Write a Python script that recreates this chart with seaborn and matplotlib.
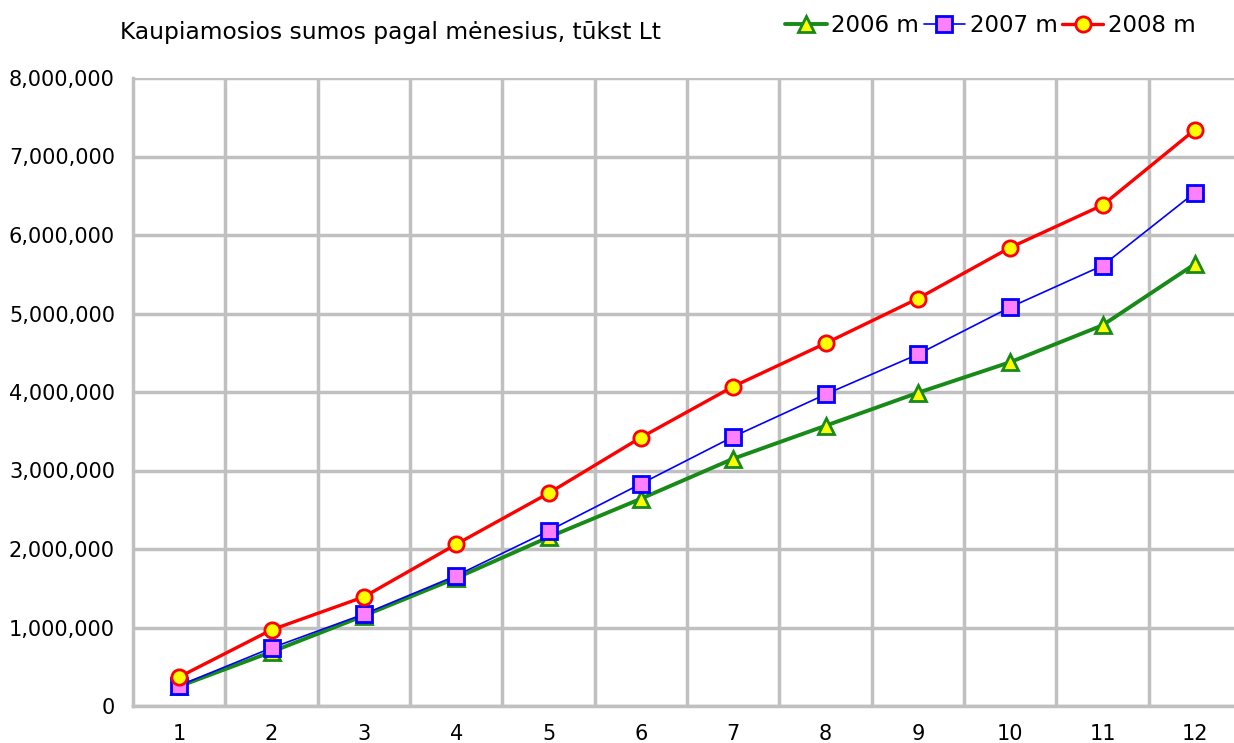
import matplotlib
matplotlib.use("Agg")
import matplotlib.pyplot as plt
import seaborn as sns
from matplotlib.ticker import FuncFormatter

months = list(range(1, 13))
sales_2006 = [250000, 690000, 1150000, 1630000, 2150000, 2640000, 3150000, 3570000, 3990000, 4380000, 4850000, 5630000]
sales_2007 = [260000, 740000, 1170000, 1660000, 2230000, 2830000, 3430000, 3970000, 4480000, 5080000, 5610000, 6540000]
sales_2008 = [370000, 970000, 1390000, 2060000, 2710000, 3420000, 4070000, 4620000, 5190000, 5840000, 6380000, 7340000]
labels = ["2006 m", "2007 m", "2008 m"]
title = "Kaupiamosios sumos pagal mėnesius, tūkst Lt"

sns.set_theme(style="white")
plt.rcParams["font.family"] = ["DejaVu Sans"]
plt.rcParams["text.color"] = "black"

fig = plt.figure(figsize=(12.34, 7.43), dpi=100)
ax = fig.add_axes([133 / 1234, 37 / 743, 1108 / 1234, 628 / 743])

styles = [
    (sales_2006, "#178a17", "^", "#ffff00", 2.8, 12),
    (sales_2007, "#0000ff", "s", "#ff80ff", 1.2, 11),
    (sales_2008, "#ff0000", "o", "#ffff00", 2.4, 11),
]
for (vals, col, mk, fc, lw, ms), lab in zip(styles, labels):
    sns.lineplot(x=months, y=vals, ax=ax, color=col, linewidth=lw, marker=mk,
                 markersize=ms, markerfacecolor=fc, markeredgecolor=col,
                 markeredgewidth=2, label=lab)

ax.set_xlim(0.5, 12.5)
ax.set_ylim(0, 8000000)
ax.set_xticks(months)
ax.set_xticks([m + 0.5 for m in months[:-1]], minor=True)
ax.set_yticks(range(0, 8000001, 1000000))
ax.yaxis.set_major_formatter(FuncFormatter(lambda v, p: f"{int(v):,}"))
ax.grid(True, which="minor", axis="x", color="#c0c0c0", linewidth=2.5)
ax.grid(True, which="major", axis="y", color="#c0c0c0", linewidth=2.5)
ax.tick_params(axis="both", which="both", length=0, labelsize=15, colors="black", pad=13)
for side in ["top", "right"]:
    ax.spines[side].set_visible(False)
for side in ["left", "bottom"]:
    ax.spines[side].set_color("#c0c0c0")
    ax.spines[side].set_linewidth(2.5)
ax.set_xlabel("")
ax.set_ylabel("")

ax.get_legend().remove()
handles, hl = ax.get_legend_handles_labels()
fig.legend(handles, hl, loc="upper right", bbox_to_anchor=(0.98, 1.0), ncol=3,
           frameon=False, fontsize=16.5, handlelength=1.8, handletextpad=0.2,
           columnspacing=0.2, borderaxespad=0.2)
fig.text(120 / 1234, 1 - 32 / 743, title, fontsize=16.8, va="center", ha="left", color="black")

fig.savefig("out.png", dpi=100)
